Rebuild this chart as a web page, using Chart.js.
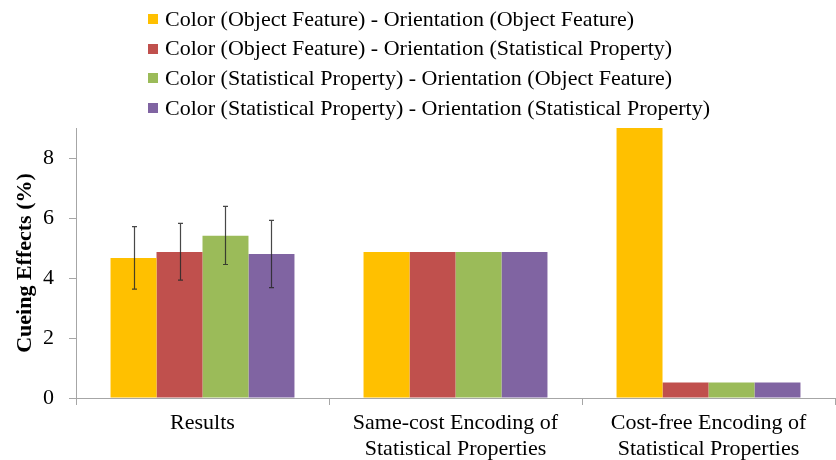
<!DOCTYPE html>
<html>
<head>
<meta charset="utf-8">
<script src="https://cdn.jsdelivr.net/npm/chart.js@4/dist/chart.umd.min.js"></script>
<style>
html,body{margin:0;padding:0;background:#fff;}
#wrap{width:836px;height:460px;position:relative;}
</style>
</head>
<body>
<div id="wrap"><canvas id="c" width="836" height="460"></canvas></div>
<script>
const categories = [["Results"], ["Same-cost Encoding of", "Statistical Properties"], ["Cost-free Encoding of", "Statistical Properties"]];
const seriesLabels = [
  "Color (Object Feature) - Orientation (Object Feature)",
  "Color (Object Feature) - Orientation (Statistical Property)",
  "Color (Statistical Property) - Orientation (Object Feature)",
  "Color (Statistical Property) - Orientation (Statistical Property)"
];
const seriesColors = ["#FFC000", "#C0504D", "#9BBB59", "#8064A2"];
const ofOf = [4.67, 4.87, 9.0];
const ofSp = [4.87, 4.87, 0.52];
const spOf = [5.41, 4.87, 0.52];
const spSp = [4.80, 4.87, 0.52];
// error bars for the "Results" category only
const errLow  = [3.63, 3.93, 4.45, 3.68];
const errHigh = [5.71, 5.82, 6.39, 5.92];
const yTicks = [0, 2, 4, 6, 8];

const values = [ofOf, ofSp, spOf, spSp];
const FONT = "'Liberation Serif', 'Times New Roman', 'DejaVu Serif', serif";

const legendPlugin = {
  id: 'vlegend',
  afterDraw(chart) {
    const ctx = chart.ctx;
    ctx.save();
    ctx.font = "22px " + FONT;
    ctx.textBaseline = 'middle';
    chart.data.datasets.forEach((ds, i) => {
      const y = 19 + i * 29.7;
      ctx.fillStyle = ds.backgroundColor;
      ctx.fillRect(148, Math.round(y - 5), 10, 10);
      ctx.fillStyle = '#000';
      ctx.fillText(ds.label, 165, y + 1);
    });
    ctx.restore();
  }
};

const errPlugin = {
  id: 'errbars',
  afterDatasetsDraw(chart) {
    const ctx = chart.ctx;
    const ys = chart.scales.y;
    ctx.save();
    ctx.strokeStyle = 'rgba(40,40,40,0.85)';
    ctx.lineWidth = 1.2;
    chart.data.datasets.forEach((ds, i) => {
      const bar = chart.getDatasetMeta(i).data[0];
      const x = Math.round(bar.x) + 0.5;
      const yl = ys.getPixelForValue(errLow[i]);
      const yh = ys.getPixelForValue(errHigh[i]);
      ctx.beginPath();
      ctx.moveTo(x, yl); ctx.lineTo(x, yh);
      ctx.moveTo(x - 2.5, yl); ctx.lineTo(x + 2.5, yl);
      ctx.moveTo(x - 2.5, yh); ctx.lineTo(x + 2.5, yh);
      ctx.stroke();
    });
    ctx.restore();
  }
};

function build() {
  new Chart(document.getElementById('c'), {
    type: 'bar',
    data: {
      labels: categories,
      datasets: values.map((v, i) => ({
        label: seriesLabels[i],
        data: v,
        backgroundColor: seriesColors[i],
        borderWidth: 0,
        barPercentage: 1.0,
        categoryPercentage: 0.727
      }))
    },
    options: {
      responsive: false,
      animation: false,
      devicePixelRatio: 1,
      layout: { padding: { top: 128, right: 1, left: 12, bottom: 0 } },
      plugins: {
        legend: { display: false },
        tooltip: { enabled: false }
      },
      scales: {
        x: {
          afterFit(scale) { scale.height = 62; },
          grid: { offset: true, drawOnChartArea: false, drawTicks: true, tickLength: 7, color: '#a6a6a6' },
          border: { color: '#a6a6a6', width: 1 },
          ticks: { font: { family: FONT, size: 22, lineHeight: 1.2 }, color: '#000', padding: 5, maxRotation: 0, autoSkip: false }
        },
        y: {
          min: 0, max: 9,
          afterFit(scale) { scale.width = 64; },
          afterBuildTicks(axis) { axis.ticks = yTicks.map(v => ({ value: v })); },
          grid: { drawOnChartArea: false, drawTicks: true, tickLength: 7, color: '#a6a6a6' },
          border: { color: '#a6a6a6', width: 1 },
          ticks: { font: { family: FONT, size: 22 }, color: '#000', padding: 15 },
          title: { display: true, text: 'Cueing Effects (%)', font: { family: FONT, size: 22, weight: 'bold', lineHeight: 1.2 }, color: '#000', padding: { top: 0, bottom: 4 } }
        }
      }
    },
    plugins: [legendPlugin, errPlugin]
  });
}

if (document.fonts && document.fonts.load) {
  Promise.all([
    document.fonts.load("22px 'Liberation Serif'"),
    document.fonts.load("bold 22px 'Liberation Serif'")
  ]).then(build, build);
} else {
  build();
}
</script>
</body>
</html>
